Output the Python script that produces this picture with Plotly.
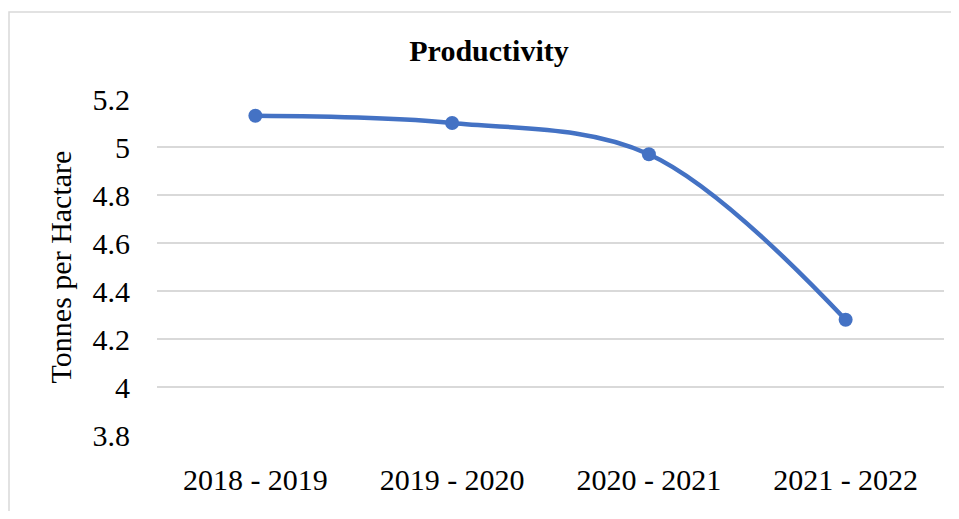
import plotly.graph_objects as go

categories = ["2018 - 2019", "2019 - 2020", "2020 - 2021", "2021 - 2022"]
productivity = [5.13, 5.10, 4.97, 4.28]
y_ticks = [3.8, 4, 4.2, 4.4, 4.6, 4.8, 5, 5.2]
y_tick_labels = ["3.8", "4", "4.2", "4.4", "4.6", "4.8", "5", "5.2"]

FONT = "Liberation Serif"
OFF = 8  # default page body margin
W, H = 959 - 2 * OFF, 519 - 2 * OFF
# plot area in screen px: x 157..944, y 99..435
L = 157 - OFF
R = W - (944 - OFF)
T = 99 - OFF
B = H - (435 - OFF)
pw, ph = W - L - R, H - T - B

fig = go.Figure()
fig.add_trace(go.Scatter(
    x=categories, y=productivity, mode="lines+markers",
    line=dict(color="#4472C4", width=4.5, shape="spline", smoothing=1),
    marker=dict(color="#4472C4", size=14),
    showlegend=False,
))

fig.update_layout(
    width=W, height=H,
    margin=dict(l=L, r=R, t=T, b=B, autoexpand=False),
    paper_bgcolor="white", plot_bgcolor="white",
    font=dict(family=FONT, color="black", size=30),
    title=dict(text="<b>Productivity</b>", xref="container", yref="container",
               x=(489 - OFF) / W, y=1 - (50 - OFF) / H,
               xanchor="center", yanchor="middle",
               font=dict(family=FONT, size=30, color="black")),
    xaxis=dict(type="category", range=[-0.5, 3.5],
               showgrid=False, zeroline=False, showline=False,
               tickfont=dict(size=30), ticklabelstandoff=24, ticks=""),
    yaxis=dict(range=[3.8, 5.2], tickvals=y_ticks, ticktext=y_tick_labels,
               showgrid=True, gridcolor="#d9d9d9", gridwidth=1.5,
               zeroline=False, showline=False, ticks="",
               tickfont=dict(size=30), ticklabelstandoff=26,
               title=dict(text="Tonnes per Hactare", standoff=12,
                          font=dict(size=30))),
    shapes=[dict(type="rect", xref="paper", yref="paper",
                 x0=(9 - 157) / pw, x1=1.2, y0=-0.5, y1=(435 - 12) / ph,
                 line=dict(color="#d9d9d9", width=1.5), fillcolor="rgba(0,0,0,0)",
                 layer="below")],
)

fig.write_html("out.html")
